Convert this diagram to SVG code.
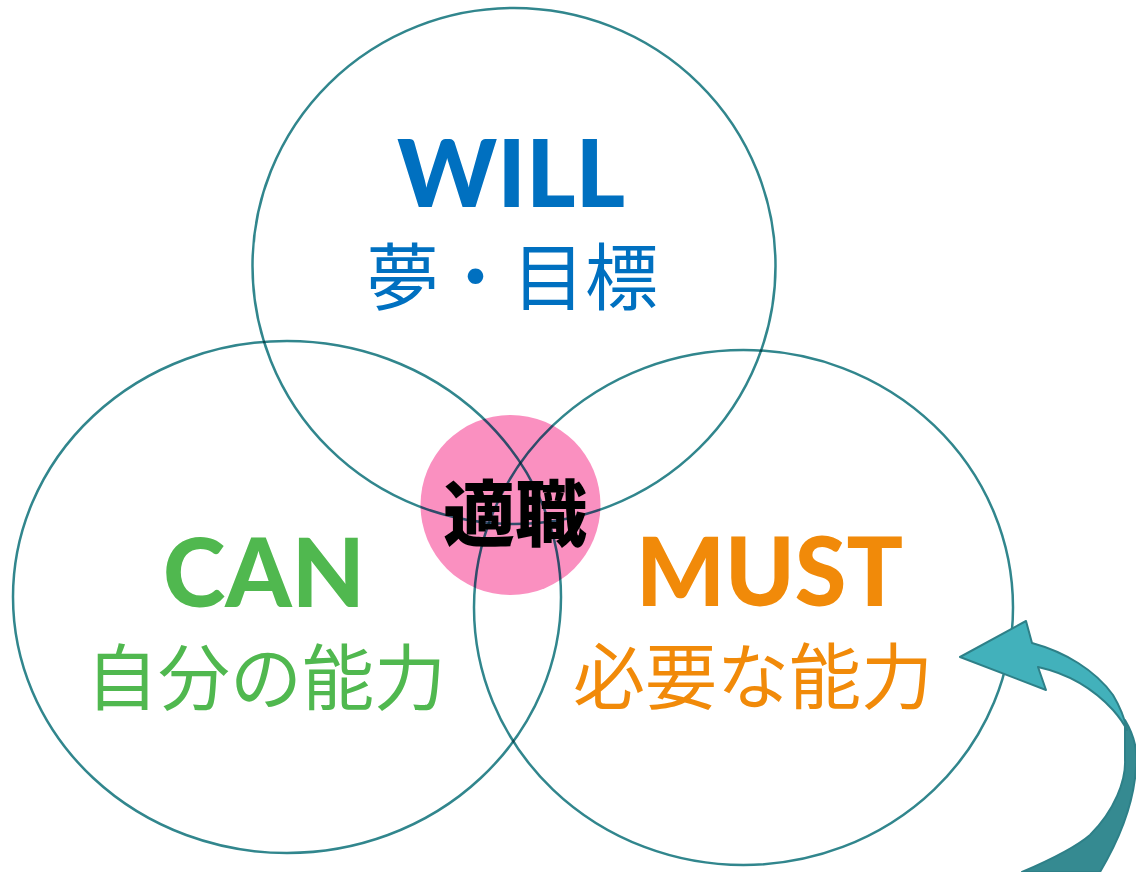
<svg xmlns="http://www.w3.org/2000/svg" width="1136" height="872" viewBox="0 0 1136 872">
<style>
.ring{fill:none;stroke:#31868D;stroke-width:2.5;mix-blend-mode:multiply}
.en{font-family:Lato,"Noto Sans",sans-serif;font-weight:900;text-anchor:middle}
.jp{font-family:"Noto Sans CJK JP",sans-serif;font-weight:400;text-anchor:middle}
.arw{stroke:#2E8088;stroke-width:2;stroke-linejoin:round}
</style>
<rect width="1136" height="872" fill="#fff"/>
<g id="center-bg">
<circle cx="510.5" cy="505" r="90" fill="#FA90C0"/>
</g>
<g id="circles">
<ellipse id="will-circle" class="ring" cx="514" cy="266" rx="261.5" ry="258"/>
<ellipse id="can-circle" class="ring" cx="287" cy="597" rx="274" ry="256"/>
<ellipse id="must-circle" class="ring" cx="743.5" cy="607.5" rx="269.5" ry="257.5"/>
</g>
<g id="will">
<text class="en" x="511" y="207" font-size="94" fill="#0070C0" textLength="228" lengthAdjust="spacingAndGlyphs">WILL</text>
<text class="jp" x="512" y="304" font-size="73" fill="#0070C0">夢・目標</text>
</g>
<g id="can">
<text class="en" x="264" y="607" font-size="96" fill="#50B84F" textLength="202" lengthAdjust="spacingAndGlyphs">CAN</text>
<text class="jp" x="266" y="704" font-size="72" fill="#50B84F">自分の能力</text>
</g>
<g id="must">
<text class="en" x="769.5" y="606" font-size="96" fill="#F18A09" textLength="267" lengthAdjust="spacingAndGlyphs">MUST</text>
<text class="jp" x="753" y="703" font-size="72" fill="#F18A09">必要な能力</text>
</g>
<g id="center">
<text class="jp" x="515" y="540" font-size="72" font-weight="900" fill="#000" style="font-weight:900">適職</text>
</g>
<g id="connectors">
<path class="arw" fill="#358A91" d="M1125,720 C1134,735 1138,752 1136,768 C1134,800 1122,835 1100,872 L1022,872 C1050,860 1075,848 1090,835 C1115,810 1126,780 1125,760 C1125,745 1125,730 1125,720 Z"/>
<path class="arw" fill="#42B1BB" d="M1032,643 L1026,621 L960,657 L1046,690 L1038,667 C1065,673 1090,685 1113,710 C1120,718 1124,724 1127,730 C1124,715 1119,705 1113,695 C1095,670 1065,652 1032,643 Z"/>
</g>
</svg>
